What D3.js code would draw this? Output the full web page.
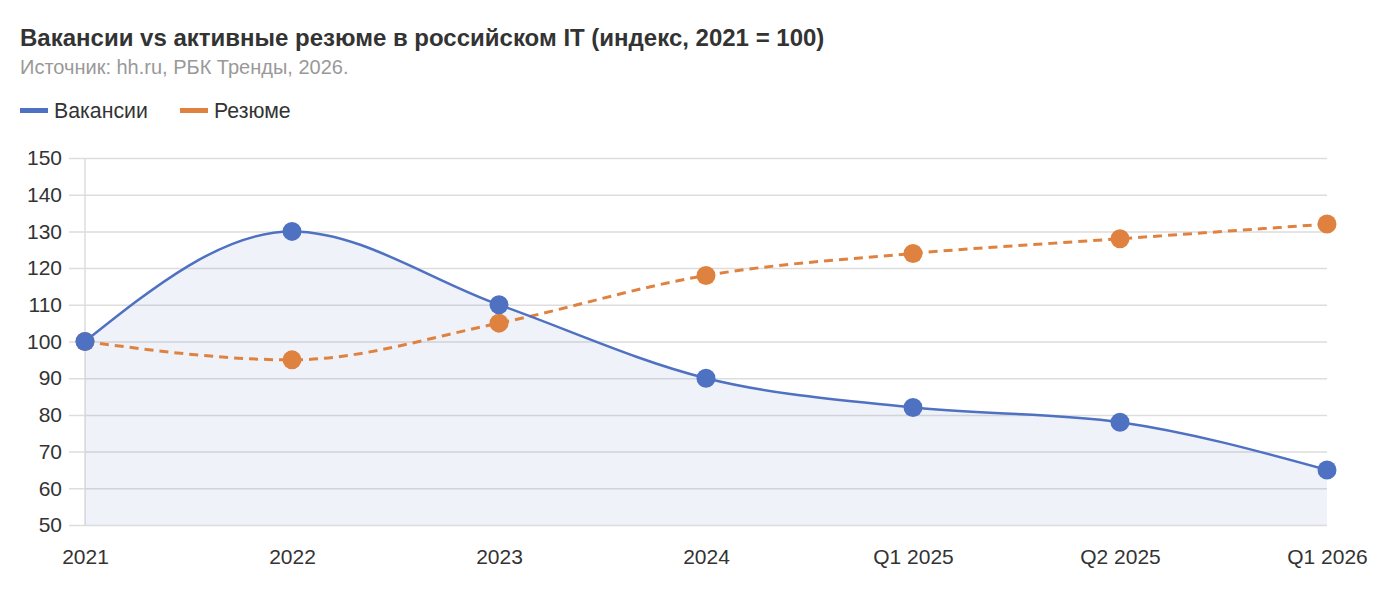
<!DOCTYPE html>
<html>
<head>
<meta charset="utf-8">
<script src="https://cdn.jsdelivr.net/npm/d3@7"></script>
<style>
  body { margin: 0; background: #fff; font-family: "Liberation Sans", Arial, Helvetica, sans-serif; }
</style>
</head>
<body>
<svg id="chart" width="1396" height="600"></svg>
<script>
const categories = ['2021', '2022', '2023', '2024', 'Q1 2025', 'Q2 2025', 'Q1 2026'];
const vacancies = [100, 130, 110, 90, 82, 78, 65];
const resumes = [100, 95, 105, 118, 124, 128, 132];
const yTicks = [50, 60, 70, 80, 90, 100, 110, 120, 130, 140, 150];

const blue = '#4f71c2';
const orange = '#e0823f';

const svg = d3.select('#chart');
const plotLeft = 85, plotRight = 1327, plotTop = 158, plotBottom = 525;

const x = d3.scalePoint().domain(categories).range([plotLeft, plotRight]);
const y = d3.scaleLinear().domain([50, 150]).range([plotBottom, plotTop]);

/* title, source */
svg.append('text').attr('x', 20).attr('y', 46)
  .attr('font-size', 24).attr('font-weight', 'bold').attr('fill', '#333')
  .text('Вакансии vs активные резюме в российском IT (индекс, 2021 = 100)');
svg.append('text').attr('x', 20).attr('y', 74)
  .attr('font-size', 20).attr('fill', '#999')
  .text('Источник: hh.ru, РБК Тренды, 2026.');

/* legend */
const legend = [
  {name: 'Вакансии', colour: blue, x: 20},
  {name: 'Резюме', colour: orange, x: 180},
];
legend.forEach((d) => {
  svg.append('rect').attr('x', d.x).attr('y', 108).attr('width', 28).attr('height', 5).attr('fill', d.colour);
  svg.append('text').attr('x', d.x + 34).attr('y', 118)
    .attr('font-size', 21.3).attr('fill', '#333').text(d.name);
});

/* grid + y axis */
const yAxis = d3.axisLeft(y).tickValues(yTicks).tickSize(plotRight - plotLeft + 16).tickPadding(7);
const gy = svg.append('g').attr('transform', `translate(${plotRight},0)`).call(yAxis);
gy.select('.domain').remove();
gy.selectAll('.tick line').attr('stroke', '#ddd').attr('stroke-width', 1.5);
gy.selectAll('.tick text').attr('font-size', 21).attr('fill', '#333')
  .attr('font-family', '"Liberation Sans", Arial, sans-serif');

/* x axis */
const xAxis = d3.axisBottom(x).tickSize(0).tickPadding(24);
const gx = svg.append('g').attr('transform', `translate(0,${plotBottom})`).call(xAxis);
gx.select('.domain').remove();
gx.selectAll('.tick text').attr('font-size', 21).attr('fill', '#333')
  .attr('font-family', '"Liberation Sans", Arial, sans-serif');

svg.append('line').attr('x1', plotLeft).attr('x2', plotLeft).attr('y1', plotTop).attr('y2', plotBottom)
  .attr('stroke', '#ddd').attr('stroke-width', 1.5);

/* area under vacancies */
const area = d3.area()
  .x((d, i) => x(categories[i]))
  .y0(y(50))
  .y1((d) => y(d))
  .curve(d3.curveMonotoneX);
svg.append('path').datum(vacancies).attr('d', area).attr('fill', blue).attr('fill-opacity', 0.09);

const line = d3.line()
  .x((d, i) => x(categories[i]))
  .y((d) => y(d))
  .curve(d3.curveMonotoneX);

svg.append('path').datum(resumes).attr('d', line)
  .attr('fill', 'none').attr('stroke', orange).attr('stroke-width', 3)
  .attr('stroke-dasharray', '9,6');
svg.append('path').datum(vacancies).attr('d', line)
  .attr('fill', 'none').attr('stroke', blue).attr('stroke-width', 2.5);

/* points */
[[resumes, orange], [vacancies, blue]].forEach(([vals, colour]) => {
  svg.append('g').selectAll('circle').data(vals).enter().append('circle')
    .attr('cx', (d, i) => x(categories[i]))
    .attr('cy', (d) => y(d))
    .attr('r', 9.5)
    .attr('fill', colour);
});
</script>
</body>
</html>
